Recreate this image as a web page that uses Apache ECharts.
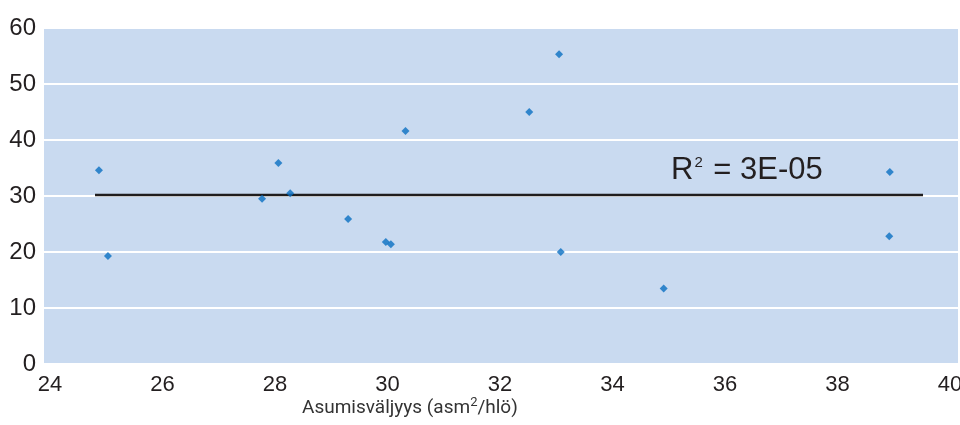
<!DOCTYPE html>
<html>
<head>
<meta charset="utf-8">
<script src="https://cdn.jsdelivr.net/npm/echarts@6/dist/echarts.min.js"></script>
<style>
html,body{margin:0;padding:0;background:#fff;}
#chart{width:960px;height:425px;}
</style>
</head>
<body>
<div id="chart"></div>
<script>
// Data
var xValues = [24.87, 25.03, 27.77, 28.06, 28.27, 29.30, 29.97, 30.06, 30.32, 32.52, 33.05, 33.08, 34.91, 38.93, 38.92];
var yValues = [34.6, 19.3, 29.5, 35.9, 30.5, 25.9, 21.8, 21.4, 41.6, 45.0, 55.3, 20.0, 13.5, 34.3, 22.8];
var trendX = [24.8, 39.52];
var trendY = [30.2, 30.2];
var xTicks = [24, 26, 28, 30, 32, 34, 36, 38, 40];
var yTicks = [0, 10, 20, 30, 40, 50, 60];
var xTitle = 'Asumisväljyys (asm';
var xTitleSup = '2';
var xTitleEnd = '/hlö)';
var rLabel = ['R', '2', ' = 3E-05'];

var points = xValues.map(function (x, i) { return [x, yValues[i]]; });
var trend = trendX.map(function (x, i) { return [x, trendY[i]]; });

var chart = echarts.init(document.getElementById('chart'), null, {renderer: 'canvas'});
chart.setOption({
  animation: false,
  backgroundColor: '#ffffff',
  grid: {
    left: 44, right: 2, top: 28, bottom: 61,
    outerBoundsMode: 'none',
    containLabel: false,
    show: true, backgroundColor: '#c9daf0', borderWidth: 0
  },
  xAxis: {
    type: 'value',
    min: 23.893, max: 40.142,
    axisLine: {show: false},
    axisTick: {show: false},
    splitLine: {show: false},
    axisLabel: {
      customValues: xTicks,
      showMinLabel: true, showMaxLabel: true,
      hideOverlap: false,
      margin: 10,
      fontFamily: "'Liberation Sans Narrow', 'Liberation Sans', Arial, sans-serif",
      fontSize: 22,
      color: '#231f20'
    }
  },
  yAxis: {
    type: 'value',
    min: 0, max: 60, interval: 10,
    axisLine: {show: false},
    axisTick: {show: false},
    splitLine: {show: true, lineStyle: {color: '#ffffff', width: 2}},
    axisLabel: {
      customValues: yTicks,
      margin: 8,
      fontFamily: "'Liberation Sans', Arial, sans-serif",
      fontSize: 24,
      color: '#231f20',
      padding: [0, 0, 7, 0]
    }
  },
  series: [
    {
      type: 'line',
      data: trend,
      symbol: 'none',
      lineStyle: {color: '#1f1d1e', width: 2.5},
      z: 2
    },
    {
      type: 'scatter',
      data: points,
      symbol: 'diamond',
      symbolSize: 8,
      itemStyle: {color: '#0a6fc2'},
      z: 3
    }
  ],
  graphic: [
    {
      type: 'text',
      left: 671, top: 155,
      style: {
        text: '{r|' + rLabel[0] + '}{s|' + rLabel[1] + '}{r|' + rLabel[2] + '}',
        rich: {
          r: {fontFamily: "'Liberation Sans', Arial, sans-serif", fontSize: 31, fill: '#231f20', lineHeight: 36},
          s: {fontFamily: "'Liberation Sans', Arial, sans-serif", fontSize: 15, fill: '#231f20', lineHeight: 36, padding: [0, 2, 16, 1]}
        }
      }
    },
    {
      type: 'text',
      left: 302, top: 396,
      style: {
        text: '{a|' + xTitle + '}{s|' + xTitleSup + '}{a|' + xTitleEnd + '}',
        rich: {
          a: {fontFamily: 'Roboto, sans-serif', fontSize: 19, fill: '#333333', lineHeight: 24},
          s: {fontFamily: 'Roboto, sans-serif', fontSize: 13, fill: '#333333', lineHeight: 24, padding: [0, 0, 11, 0]}
        }
      }
    }
  ]
});
</script>
</body>
</html>
